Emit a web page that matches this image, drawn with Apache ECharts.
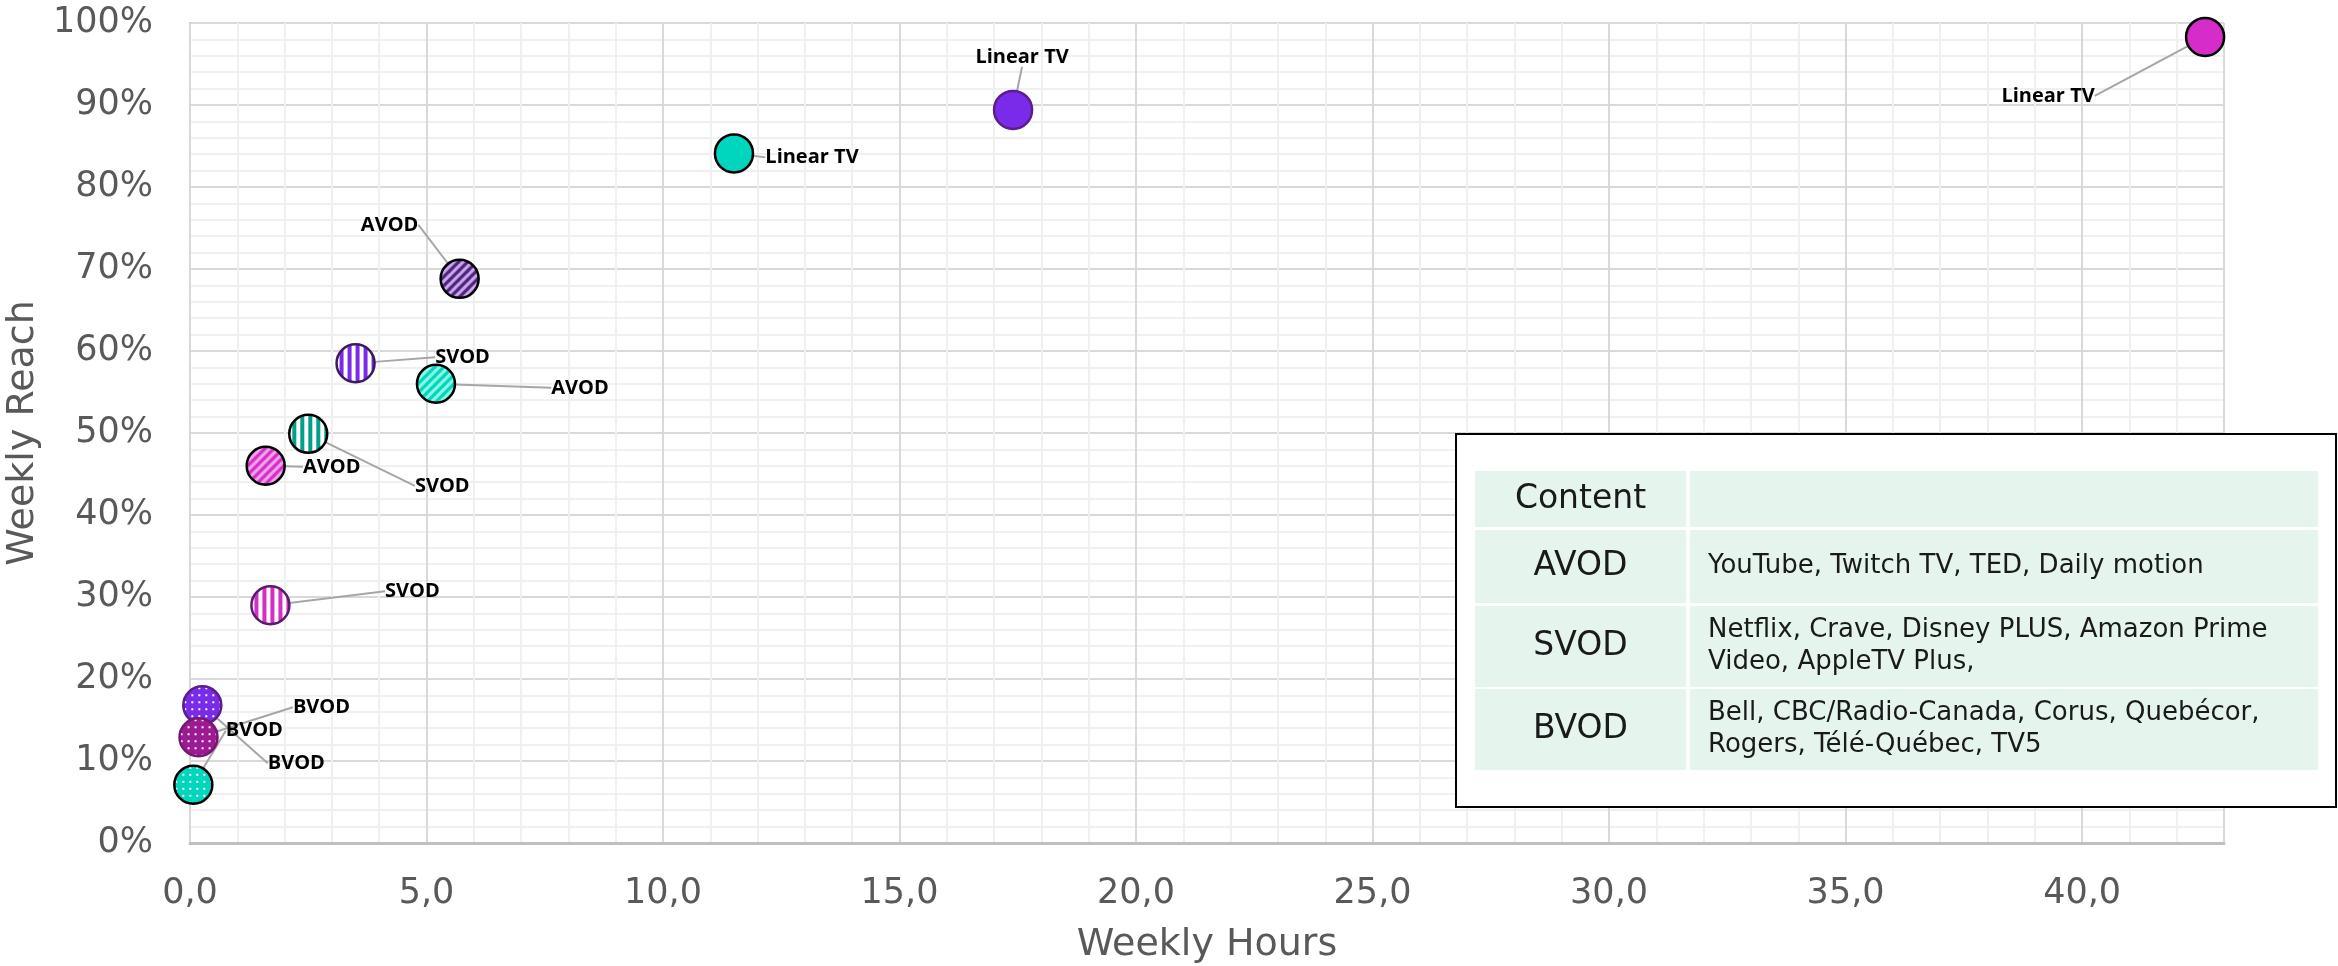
<!DOCTYPE html>
<html>
<head>
<meta charset="utf-8">
<script src="https://cdn.jsdelivr.net/npm/echarts@6/dist/echarts.min.js"></script>
<style>
  html, body { margin: 0; padding: 0; background: #fff; }
  #chart { width: 2338px; height: 966px; }
</style>
</head>
<body>
<div id="chart"></div>
<script>
// order inside each group: Linear TV, AVOD, SVOD, BVOD
const contentTypes = ["Linear TV", "AVOD", "SVOD", "BVOD"];

const tealHours = [11.5, 5.2, 2.5, 0.07];
const tealReach = [84.1, 56.0, 49.9, 7.1];
const purpleHours = [17.4, 5.7, 3.5, 0.26];
const purpleReach = [89.4, 68.8, 58.5, 16.8];
const magentaHours = [42.6, 1.6, 1.7, 0.18];
const magentaReach = [98.3, 46.0, 29.0, 12.9];

const xTicks = [0, 5, 10, 15, 20, 25, 30, 35, 40];
const yTicks = [0, 10, 20, 30, 40, 50, 60, 70, 80, 90, 100];

const tableHeader = ["Content", ""];
const tableTypes = ["AVOD", "SVOD", "BVOD"];
const tableServices = [
  "YouTube, Twitch TV, TED, Daily motion",
  "Netflix, Crave, Disney PLUS, Amazon Prime\nVideo, AppleTV Plus,",
  "Bell, CBC/Radio-Canada, Corus, Quebécor,\nRogers, Télé-Québec, TV5",
];

// label offsets in px (label centre relative to the point), same order as the data
const labelOffsets = [
  [[78, 4], [144, 4], [134, 52], [61, -54]],
  [[9, -53], [-70, -54], [107, -6], [94, 58]],
  [[-157, 59], [66, 1], [142, -14], [123, -30]],
];

const AXIS_FONT = "'DejaVu Sans', sans-serif";
const LABEL_FONT = "'Open Sans', sans-serif";
const SYMBOL = 38;
// scatter symbols are drawn as a unit path scaled up, so undo that scale on the patterns
const PAT_SCALE = 2 / SYMBOL;

function pattern(c) {
  return { image: c, repeat: "repeat", scaleX: PAT_SCALE, scaleY: PAT_SCALE };
}

function diagonal(bg, fg) {
  const s = 9;
  const c = document.createElement("canvas");
  c.width = s; c.height = s;
  const ctx = c.getContext("2d");
  ctx.fillStyle = bg;
  ctx.fillRect(0, 0, s, s);
  ctx.strokeStyle = fg;
  ctx.lineWidth = 3.2;
  for (let k = -1; k <= 1; k++) {
    ctx.beginPath();
    ctx.moveTo(k * s - 1, s + 1);
    ctx.lineTo(k * s + s + 1, -1);
    ctx.stroke();
  }
  return pattern(c);
}

function vertical(fg) {
  const c = document.createElement("canvas");
  c.width = 8; c.height = 8;
  const ctx = c.getContext("2d");
  ctx.fillStyle = "#ffffff";
  ctx.fillRect(0, 0, 8, 8);
  ctx.fillStyle = fg;
  ctx.fillRect(0, 0, 4, 8);
  return pattern(c);
}

function dotted(bg) {
  const c = document.createElement("canvas");
  c.width = 7; c.height = 7;
  const ctx = c.getContext("2d");
  ctx.fillStyle = bg;
  ctx.fillRect(0, 0, 7, 7);
  ctx.fillStyle = "#ffffff";
  ctx.fillRect(3, 3, 2, 2);
  return pattern(c);
}

const fills = [
  ["#00D5BE", diagonal("#8CF9E4", "#00D5BE"), vertical("#00A08A"), dotted("#00D5BE")],
  ["#7A2BEA", diagonal("#C8A9F2", "#4E2275"), vertical("#7A2BEA"), dotted("#7A2BEA")],
  ["#D62DC9", diagonal("#EFA6EA", "#D62DC9"), vertical("#D62DC9"), dotted("#9C1B93")],
];
const borders = [
  ["#000000", "#000000", "#000000", "#000000"],
  ["#5B1C8E", "#000000", "#3E1860", "#5B1C8E"],
  ["#000000", "#000000", "#5A1A70", "#7A1672"],
];

const groups = [
  ["Teal", tealHours, tealReach],
  ["Purple", purpleHours, purpleReach],
  ["Magenta", magentaHours, magentaReach],
];

const series = groups.map(([name, hours, reach], g) => ({
  name,
  type: "scatter",
  z: 3,
  symbol: "circle",
  symbolSize: SYMBOL,
  data: hours.map((h, i) => ({
    value: [h, reach[i]],
    name: contentTypes[i],
    itemStyle: { color: fills[g][i], borderColor: borders[g][i], borderWidth: 2.5, opacity: 1 },
  })),
  label: {
    show: true,
    position: "inside",
    formatter: "{b}",
    color: "#000",
    fontFamily: LABEL_FONT,
    fontWeight: "bold",
    fontSize: 20,
  },
  labelLine: { show: true, lineStyle: { color: "#A6A6A6", width: 2 } },
  labelLayout: (params) => {
    const off = labelOffsets[g][params.dataIndex];
    return { dx: off[0], dy: off[1] };
  },
  emphasis: { disabled: true },
}));

// legend table drawn as graphic, absolute pixel coordinates
const rowsY = [[471, 527], [530, 603], [606, 687], [689, 770]];
const colsX = [[1475, 1686], [1690, 2318]];
const cellBg = "#E5F5EE";
const textColor = "#1a1a1a";
const tableChildren = [
  {
    type: "rect",
    z: 100,
    shape: { x: 1456, y: 434, width: 880, height: 373 },
    style: { fill: "#fff", stroke: "#000", lineWidth: 2 },
  },
];
rowsY.forEach(([y0, y1], r) => {
  colsX.forEach(([x0, x1]) => {
    tableChildren.push({
      type: "rect",
      z: 101,
      shape: { x: x0, y: y0, width: x1 - x0, height: y1 - y0 },
      style: { fill: cellBg },
    });
  });
  const left = r === 0 ? tableHeader[0] : tableTypes[r - 1];
  const right = r === 0 ? tableHeader[1] : tableServices[r - 1];
  const cy = (y0 + y1) / 2;
  tableChildren.push({
    type: "text",
    z: 102,
    style: {
      text: left, x: (colsX[0][0] + colsX[0][1]) / 2, y: cy,
      textAlign: "center", align: "center", textVerticalAlign: "middle", verticalAlign: "middle",
      fontFamily: AXIS_FONT, fontSize: 33, fill: textColor,
    },
  });
  if (right) {
    tableChildren.push({
      type: "text",
      z: 102,
      style: {
        text: right, x: colsX[1][0] + 18, y: cy,
        textAlign: "left", align: "left", textVerticalAlign: "middle", verticalAlign: "middle",
        fontFamily: AXIS_FONT, fontSize: 26, lineHeight: 32, fill: textColor,
      },
    });
  }
});

const chart = echarts.init(document.getElementById("chart"));
chart.setOption({
  animation: false,
  backgroundColor: "#ffffff",
  grid: { left: 190, right: 114, top: 23, bottom: 123, outerBoundsMode: "none", containLabel: false },
  xAxis: [
    {
      type: "value",
      min: 0,
      max: 43,
      interval: 5,
      z: 1,
      name: "Weekly Hours",
      nameLocation: "middle",
      nameGap: 83,
      nameTextStyle: { color: "#595959", fontFamily: AXIS_FONT, fontSize: 38 },
      axisLine: { show: true, lineStyle: { color: "#BFBFBF", width: 3 } },
      axisTick: { show: false },
      axisLabel: {
        color: "#595959",
        fontFamily: AXIS_FONT,
        fontSize: 35,
        margin: 33,
        formatter: (v) => (xTicks.includes(v) ? v.toFixed(1).replace(".", ",") : ""),
      },
      splitLine: { show: true, lineStyle: { color: "#D9D9D9", width: 2 } },
    },
    {
      type: "value",
      min: 0,
      max: 43,
      interval: 1,
      z: 0,
      axisLine: { show: false },
      axisTick: { show: false },
      axisLabel: { show: false },
      splitLine: { show: true, lineStyle: { color: "#F0F0F0", width: 2 } },
    },
  ],
  yAxis: {
    type: "value",
    min: 0,
    max: 100,
    interval: 10,
    name: "Weekly Reach",
    nameLocation: "middle",
    nameGap: 138,
    nameTextStyle: { color: "#595959", fontFamily: AXIS_FONT, fontSize: 38 },
    axisLine: { show: true, lineStyle: { color: "#BFBFBF", width: 2 } },
    axisTick: { show: false },
    axisLabel: {
      color: "#595959",
      fontFamily: AXIS_FONT,
      fontSize: 35,
      margin: 37,
      formatter: (v) => (yTicks.includes(v) ? v + "%" : ""),
    },
    splitLine: { show: true, lineStyle: { color: "#D9D9D9", width: 2 } },
    minorTick: { show: false, splitNumber: 5 },
    minorSplitLine: { show: true, lineStyle: { color: "#F0F0F0", width: 2 } },
  },
  series,
  graphic: [{ type: "group", z: 100, children: tableChildren }],
});
</script>
</body>
</html>
